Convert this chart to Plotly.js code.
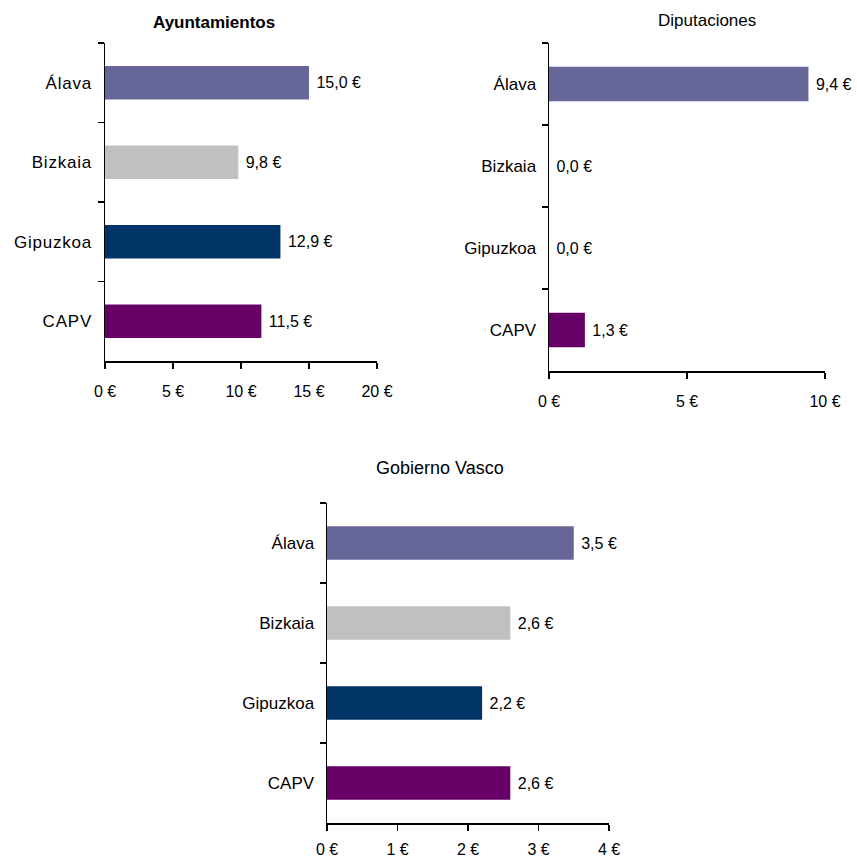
<!DOCTYPE html>
<html>
<head>
<meta charset="utf-8">
<script src="https://cdn.plot.ly/plotly-3.0.1.min.js"></script>
<style>
html,body{margin:0;padding:0;background:#fff;}
.ytick text{letter-spacing:0.8px;}
</style>
</head>
<body>
<div id="chart" style="width:857px;height:859px;"></div>
<script>
const categories = ['Álava', 'Bizkaia', 'Gipuzkoa', 'CAPV'];
const barColors = ['#666699', '#C0C0C0', '#003366', '#660066'];

const ayuntamientos = [15.0, 9.8, 12.9, 11.5];
const diputaciones = [9.4, 0.0, 0.0, 1.3];
const gobiernoVasco = [3.5, 2.6, 2.2, 2.6];

const titles = ['Ayuntamientos', 'Diputaciones', 'Gobierno Vasco'];

const ticks1 = [0, 5, 10, 15, 20];
const tickText1 = ['0 €', '5 €', '10 €', '15 €', '20 €'];
const ticks2 = [0, 5, 10];
const tickText2 = ['0 €', '5 €', '10 €'];
const ticks3 = [0, 1, 2, 3, 4];
const tickText3 = ['0 €', '1 €', '2 €', '3 €', '4 €'];

const W = 857, H = 859;
const FONT = 'Liberation Sans, Arial, sans-serif';

function fmt(v) { return '\u00a0' + v.toFixed(1).replace('.', ',') + ' €'; }

function barTrace(vals, xa, ya) {
  return {
    type: 'bar', orientation: 'h',
    y: categories, x: vals,
    xaxis: xa, yaxis: ya,
    marker: { color: barColors, line: { width: 0 } },
    width: 0.42,
    text: vals.map(fmt),
    textposition: 'outside',
    textfont: { family: FONT, size: 16, color: '#000' },
    constraintext: 'none',
    cliponaxis: false,
    hoverinfo: 'none',
    showlegend: false
  };
}

function xAxis(px0, px1, range, tv, tt, anchor, standoff) {
  return {
    domain: [px0 / W, px1 / W], anchor: anchor,
    range: range, tickvals: tv, ticktext: tt,
    ticks: 'outside', ticklen: 6, tickwidth: 1.5, tickcolor: '#000',
    showline: true, linecolor: '#000', linewidth: 1.5,
    showgrid: false, zeroline: false, fixedrange: true,
    tickfont: { family: FONT, size: 16, color: '#000' },
    ticklabelstandoff: standoff
  };
}

function yAxis(pyTop, pyBot, anchor) {
  return {
    domain: [1 - pyBot / H, 1 - pyTop / H], anchor: anchor,
    type: 'category', autorange: 'reversed',
    tickson: 'boundaries',
    ticks: 'outside', ticklen: 6, tickwidth: 1.5, tickcolor: '#000',
    showline: true, linecolor: '#000', linewidth: 1.5,
    showgrid: false, zeroline: false, fixedrange: true,
    tickfont: { family: FONT, size: 17, color: '#000' },
    ticklabelstandoff: 8
  };
}

const data = [
  barTrace(ayuntamientos, 'x', 'y'),
  barTrace(diputaciones, 'x2', 'y2'),
  barTrace(gobiernoVasco, 'x3', 'y3')
];

const layout = {
  width: W, height: H,
  margin: { l: 0, r: 0, t: 0, b: 0 },
  paper_bgcolor: '#fff', plot_bgcolor: '#fff',
  font: { family: FONT, color: '#000' },
  xaxis: xAxis(105, 377, [0, 20], ticks1, tickText1, 'y', 9),
  yaxis: yAxis(43, 361, 'x'),
  xaxis2: xAxis(549, 825, [0, 10], ticks2, tickText2, 'y2', 9),
  yaxis2: yAxis(43, 371, 'x2'),
  xaxis3: xAxis(327, 609, [0, 4], ticks3, tickText3, 'y3', 5),
  yaxis3: yAxis(503, 823, 'x3'),
  annotations: [
    { text: titles[0], x: 214 / W, y: 1 - 23 / H, xref: 'paper', yref: 'paper', showarrow: false,
      xanchor: 'center', yanchor: 'middle', font: { family: FONT, size: 17, color: '#000', weight: 'bold' } },
    { text: titles[1], x: 707 / W, y: 1 - 21 / H, xref: 'paper', yref: 'paper', showarrow: false,
      xanchor: 'center', yanchor: 'middle', font: { family: FONT, size: 17, color: '#000' } },
    { text: titles[2], x: 440 / W, y: 1 - 468 / H, xref: 'paper', yref: 'paper', showarrow: false,
      xanchor: 'center', yanchor: 'middle', font: { family: FONT, size: 18, color: '#000' } }
  ]
};

Plotly.newPlot('chart', data, layout, { displayModeBar: false, staticPlot: true });
</script>
</body>
</html>
